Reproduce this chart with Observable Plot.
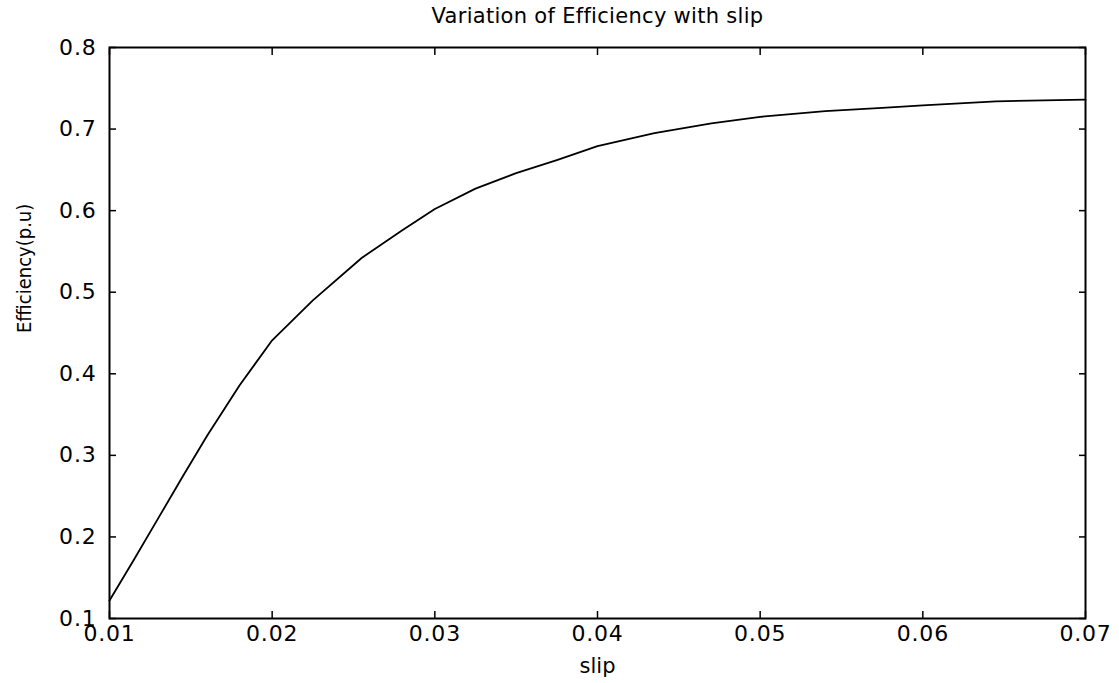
<!DOCTYPE html>
<html>
<head>
<meta charset="utf-8">
<script src="https://cdn.jsdelivr.net/npm/d3@7"></script>
<script src="https://cdn.jsdelivr.net/npm/@observablehq/plot@0.6"></script>
<style>
  html, body { margin: 0; padding: 0; background: #fff; }
  #title { width: 1119px; height: 30px; box-sizing: border-box; padding-left: 110px; padding-right: 34px;
           text-align: center; font-family: "DejaVu Sans", sans-serif; font-size: 21px; line-height: 32px; color: #000; letter-spacing: 0.3px; }
  #chart svg { display: block; }
  #chart svg g[aria-label="x-axis tick label"] text,
  #chart svg g[aria-label="y-axis tick label"] text { letter-spacing: 0.8px; }
</style>
</head>
<body>
<div id="title">Variation of Efficiency with slip</div>
<div id="chart"></div>
<script>
const titleText = "Variation of Efficiency with slip";
const xLabel = "slip";
const yLabel = "Efficiency(p.u)";
const xTicks = [0.01, 0.02, 0.03, 0.04, 0.05, 0.06, 0.07];
const yTicks = [0.1, 0.2, 0.3, 0.4, 0.5, 0.6, 0.7, 0.8];
const slip = [0.010, 0.0115, 0.013, 0.0145, 0.016, 0.018, 0.020, 0.0225, 0.0255, 0.028, 0.030, 0.0325, 0.035, 0.0375, 0.040, 0.0435, 0.047, 0.050, 0.054, 0.0575, 0.060, 0.0645, 0.070];
const efficiency = [0.122, 0.172, 0.223, 0.274, 0.324, 0.386, 0.441, 0.490, 0.542, 0.576, 0.602, 0.627, 0.646, 0.662, 0.679, 0.695, 0.707, 0.715, 0.722, 0.726, 0.729, 0.734, 0.736];

document.getElementById("title").textContent = titleText;
const data = slip.map((s, i) => ({slip: s, eff: efficiency[i]}));
const font = "DejaVu Sans, sans-serif";

const chart = Plot.plot({
  width: 1119,
  height: 653,
  marginTop: 17,
  marginBottom: 65,
  marginLeft: 109,
  marginRight: 34,
  style: {fontFamily: font, fontSize: "22px", color: "#000", background: "#fff"},
  x: {domain: [0.01, 0.07]},
  y: {domain: [0.1, 0.8]},
  marks: [
    Plot.axisX(xTicks, {anchor: "bottom", tickSize: -7, tickPadding: 14, label: null, fontSize: 22, tickFormat: d => d3.format(".2f")(d), strokeWidth: 1.5}),
    Plot.axisX(xTicks, {anchor: "top", tickSize: -7, label: null, tickFormat: () => "", strokeWidth: 1.5}),
    Plot.axisY(yTicks, {anchor: "left", tickSize: -7, tickPadding: 20, label: null, fontSize: 22, tickFormat: d => d3.format(".1f")(d), strokeWidth: 1.5}),
    Plot.axisY(yTicks, {anchor: "right", tickSize: -7, label: null, tickFormat: () => "", strokeWidth: 1.5}),
    Plot.frame({stroke: "#000", strokeWidth: 2}),
    Plot.line(data, {x: "slip", y: "eff", stroke: "#000", strokeWidth: 1.8}),
    Plot.text([xLabel], {frameAnchor: "bottom", dy: 48, text: d => d, fontSize: 21, lineAnchor: "middle", fill: "#000"}),
    Plot.text([yLabel], {frameAnchor: "left", dx: -85, rotate: -90, text: d => d, fontSize: 20, lineAnchor: "middle", fill: "#000", fontFamily: "DejaVu Sans Condensed, DejaVu Sans, sans-serif"})
  ]
});
document.getElementById("chart").appendChild(chart);
</script>
</body>
</html>
